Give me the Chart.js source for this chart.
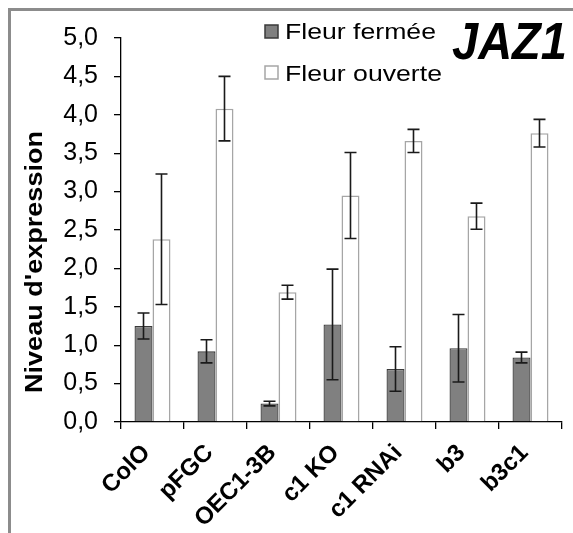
<!DOCTYPE html>
<html>
<head>
<meta charset="utf-8">
<script src="https://cdn.jsdelivr.net/npm/chart.js@4/dist/chart.umd.min.js"></script>
<style>
html,body{margin:0;padding:0;background:#fff;}
#wrap{position:relative;width:573px;height:533px;overflow:hidden;}
#frame{position:absolute;left:8px;top:8px;width:700px;height:700px;border:3px solid #8c8c8c;box-sizing:border-box;}
canvas{position:absolute;left:0;top:0;}
</style>
</head>
<body>
<div id="wrap"><div id="frame"></div><canvas id="c" width="573" height="533"></canvas></div>
<script>
const categories = ["ColO", "pFGC", "OEC1-3B", "c1 KO", "c1 RNAi", "b3", "b3c1"];
const seriesNames = ["Fleur fermée", "Fleur ouverte"];
const closedValues = [1.25, 0.92, 0.24, 1.27, 0.69, 0.96, 0.84];
const closedErrors = [0.17, 0.15, 0.03, 0.72, 0.29, 0.44, 0.07];
const openValues = [2.38, 4.08, 1.69, 2.95, 3.66, 2.68, 3.76];
const openErrors = [0.85, 0.42, 0.09, 0.56, 0.15, 0.17, 0.18];
const yTicks = [0, 0.5, 1, 1.5, 2, 2.5, 3, 3.5, 4, 4.5, 5];
const chartTitle = "JAZ1";
const yAxisTitle = "Niveau d'expression";

const errors = [closedErrors, openErrors];

const errorBarPlugin = {
  id: 'errorBars',
  afterDatasetsDraw(chart) {
    const ctx = chart.ctx;
    const y = chart.scales.y;
    ctx.save();
    ctx.strokeStyle = '#1a1a1a';
    ctx.lineWidth = 1.6;
    chart.data.datasets.forEach((ds, di) => {
      const meta = chart.getDatasetMeta(di);
      meta.data.forEach((bar, i) => {
        const v = ds.data[i], e = errors[di][i];
        const yt = y.getPixelForValue(v + e);
        const yb = y.getPixelForValue(v - e);
        const x = bar.x;
        const hw = 6;
        ctx.beginPath();
        ctx.moveTo(x, yt); ctx.lineTo(x, yb);
        ctx.moveTo(x - hw, yt); ctx.lineTo(x + hw, yt);
        ctx.moveTo(x - hw, yb); ctx.lineTo(x + hw, yb);
        ctx.stroke();
      });
    });
    ctx.restore();
  }
};

const decorPlugin = {
  id: 'decor',
  afterDraw(chart) {
    const ctx = chart.ctx;
    ctx.save();
    // legend
    const ds = chart.data.datasets;
    const rows = [{sq: 25, base: 39}, {sq: 66, base: 81}];
    ctx.font = '22px "Liberation Sans", Arial, sans-serif';
    const k = 151 / ctx.measureText(ds[0].label).width;
    rows.forEach((r, i) => {
      ctx.fillStyle = ds[i].backgroundColor;
      ctx.strokeStyle = ds[i].borderColor;
      ctx.lineWidth = 1.5;
      ctx.fillRect(265, r.sq, 13, 13);
      ctx.strokeRect(265, r.sq, 13, 13);
      ctx.fillStyle = '#000';
      ctx.textAlign = 'left';
      ctx.textBaseline = 'alphabetic';
      ctx.save();
      ctx.translate(285, r.base);
      ctx.scale(k, 1);
      ctx.fillText(ds[i].label, 0, 0);
      ctx.restore();
    });
    // title
    ctx.fillStyle = '#000';
    ctx.font = 'italic bold 51px "Liberation Sans", Arial, sans-serif';
    ctx.textAlign = 'left';
    const tw = ctx.measureText(chartTitle).width;
    ctx.save();
    ctx.translate(452, 59);
    ctx.scale(115 / tw, 1);
    ctx.fillText(chartTitle, 0, 0);
    ctx.restore();
    // y axis title
    ctx.font = 'bold 23px "Liberation Sans", Arial, sans-serif';
    ctx.textAlign = 'center';
    ctx.textBaseline = 'middle';
    const yw = ctx.measureText(yAxisTitle).width;
    ctx.save();
    ctx.translate(36, 262);
    ctx.rotate(-Math.PI / 2);
    ctx.scale(262 / yw, 1);
    ctx.fillText(yAxisTitle, 0, 0);
    ctx.restore();
    ctx.restore();
  }
};

new Chart(document.getElementById('c'), {
  type: 'bar',
  data: {
    labels: categories,
    datasets: [
      { label: seriesNames[0], data: closedValues, backgroundColor: '#808080', borderColor: '#3a3a3a', borderWidth: 1.3 },
      { label: seriesNames[1], data: openValues, backgroundColor: '#ffffff', borderColor: '#a6a6a6', borderWidth: 1.6 }
    ]
  },
  options: {
    responsive: false,
    animation: false,
    devicePixelRatio: 1,
    layout: { padding: { left: 0, right: 11, top: 38, bottom: 0 } },
    datasets: { bar: { categoryPercentage: 0.571, barPercentage: 1.0 } },
    plugins: { legend: { display: false }, tooltip: { enabled: false }, title: { display: false } },
    scales: {
      x: {
        afterFit(s) { s.height = 111; },
        grid: { drawOnChartArea: false, drawTicks: true, tickLength: 7, color: '#000', lineWidth: 1.3, offset: true },
        border: { display: true, color: '#000', width: 1.3 },
        ticks: { color: '#000', font: { family: '"Liberation Sans", Arial, sans-serif', size: 24, weight: 'bold' }, minRotation: 45, maxRotation: 45, padding: 10, labelOffset: -6, autoSkip: false }
      },
      y: {
        min: 0, max: 5,
        afterFit(s) { s.width = 121; },
        afterBuildTicks(s) { s.ticks = yTicks.map(v => ({ value: v })); },
        grid: { drawOnChartArea: false, drawTicks: true, tickLength: 7, color: '#000', lineWidth: 1.3 },
        border: { display: true, color: '#000', width: 1.3 },
        ticks: { color: '#000', font: { family: '"Liberation Sans", Arial, sans-serif', size: 25 }, padding: 16,
          callback: v => Number(v).toFixed(1).replace('.', ',') }
      }
    }
  },
  plugins: [errorBarPlugin, decorPlugin]
});
</script>
</body>
</html>
